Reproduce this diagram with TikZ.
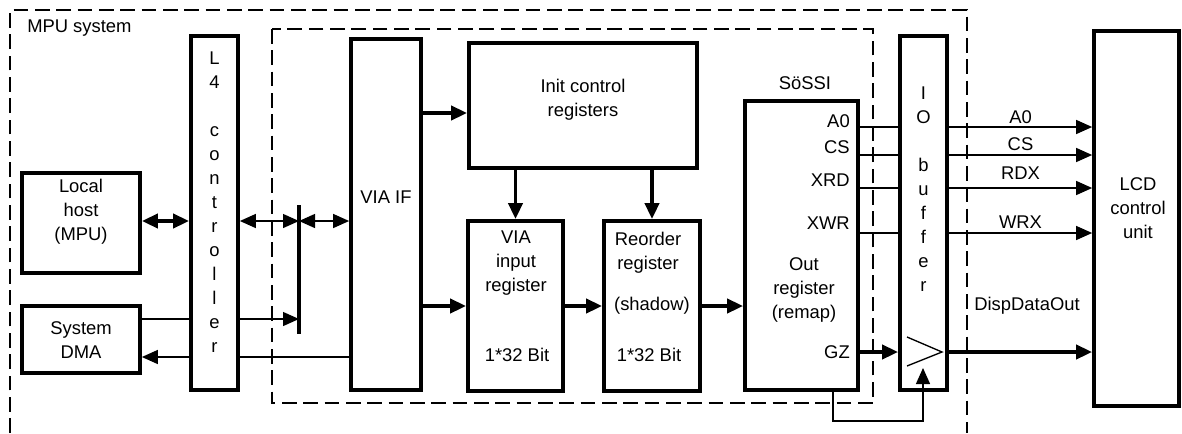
\documentclass[tikz,border=0pt]{standalone}
\usepackage{fontspec}
\setmainfont{Liberation Sans}
\usetikzlibrary{arrows.meta,fit}

\begin{document}
\begin{tikzpicture}[x=0.75pt, y=-0.75pt,
    font=\fontsize{13.8}{18}\selectfont,
    >={Triangle[length=12pt,width=10.5pt]},
    block/.style={draw, line width=2.8pt, inner sep=0pt},
    bus/.style={line width=2.8pt},
    wire/.style={line width=1pt},
    frame/.style={line width=2pt, dash pattern=on 11pt off 5pt},
    txt/.style={align=center, inner sep=0pt}]
  \useasboundingbox (0,0) rectangle (1182,433);
  % System boundaries
  \draw[frame] (10,433) -- (10,10) -- (967,10) -- (967,433);
  \node[anchor=west, inner sep=0pt] (mpu) at (27,28) {MPU system};
  \draw[frame] (272,29) rectangle (873,403);
  % Blocks
  \node[block, fit={(22,173) (140,273)}] (host) {};
  \node[txt] (hosttxt) at (81,212) {Local\\host\\(MPU)};
  \node[block, fit={(22,306) (140,373)}] (dma) {};
  \node[txt] (dmatxt) at (81,340) {System\\DMA};
  \node[block, fit={(191,36) (238,390)}] (l4) {};
  \node[txt] (l4txt) at (214.5,202) {L\\4\\[18pt]c\\o\\n\\t\\r\\o\\l\\l\\e\\r};
  \node[block, fit={(351,39) (421,390)}] (viaif) {};
  \node[txt] (viaiftxt) at (386,197) {VIA IF};
  \node[block, fit={(469,43) (697,168)}] (init) {};
  \node[txt] (inittxt) at (583,100) {Init control\\registers};
  \node[block, fit={(468,221) (563,391)}] (vin) {};
  \node[txt] (vintxt) at (516,263) {VIA\\input\\register};
  \node[txt] (vinbits) at (517,355) {1*32 Bit};
  \node[block, fit={(604,221) (700,391)}] (reord) {};
  \node[txt] (reordtxt) at (648,253) {Reorder\\register};
  \node[txt] (shadow) at (652,306) {(shadow)};
  \node[txt] (reordbits) at (649,355) {1*32 Bit};
  \node[txt] (sossi) at (805,83) {SöSSI};
  \node[block, fit={(745,101) (858,390)}] (outreg) {};
  \node[txt] (outregtxt) at (804,290) {Out\\register\\(remap)};
  \node[block, fit={(900,36) (947,390)}] (iobuf) {};
  \node[txt] (iobuftxt) at (923.5,189) {I\\O\\[18pt]b\\u\\f\\f\\e\\r};
  \node[block, fit={(1094,31) (1179,406)}] (lcd) {};
  \node[txt] (lcdtxt) at (1138,208) {LCD\\control\\unit};
  % Levels and bus bar
  \coordinate (yhost) at (0,221);
  \coordinate (ydmain) at (0,319);
  \coordinate (ydmaout) at (0,357);
  \coordinate (yinit) at (0,113);
  \coordinate (ya0) at (0,127);
  \coordinate (ycs) at (0,155);
  \coordinate (yxrd) at (0,188);
  \coordinate (yxwr) at (0,233);
  \coordinate (ygz) at (0,352);
  \coordinate (bartop) at (299,205);
  \coordinate (barbot) at (299,334);
  \draw[bus] (bartop) -- (barbot);
  % Host and DMA side
  \draw[bus, <->] (host.east |- yhost) -- (l4.west |- yhost);
  \draw[wire, <->] (l4.east |- yhost) -- (bartop |- yhost);
  \draw[wire, <->] (bartop |- yhost) -- (viaif.west |- yhost);
  \draw[wire] (dma.east |- ydmain) -- (l4.west |- ydmain);
  \draw[wire, ->] (l4.east |- ydmain) -- (bartop |- ydmain);
  \draw[wire, ->] (l4.west |- ydmaout) -- (dma.east |- ydmaout);
  \draw[wire] (viaif.west |- ydmaout) -- (l4.east |- ydmaout);
  % Register path
  \draw[bus, ->] (viaif.east |- yinit) -- (init.west |- yinit);
  \draw[bus, ->] (init.south -| vin.north) -- (vin.north);
  \draw[bus, ->] (init.south -| reord.north) -- (reord.north);
  \draw[bus, ->] (viaif.east |- vin.west) -- (vin.west);
  \draw[bus, ->] (vin.east) -- (reord.west);
  \draw[bus, ->] (reord.east) -- (outreg.west |- reord.east);
  % Control signals
  \node[anchor=east, inner sep=0pt] (a0in) at (850,121) {A0};
  \node[anchor=east, inner sep=0pt] (csin) at (850,147.5) {CS};
  \node[anchor=east, inner sep=0pt] (xrdin) at (850,180) {XRD};
  \node[anchor=east, inner sep=0pt] (xwrin) at (850,223) {XWR};
  \node[anchor=east, inner sep=0pt] (gzin) at (850,352.5) {GZ};
  \draw[wire] (outreg.east |- ya0) -- (iobuf.west |- ya0);
  \draw[wire] (outreg.east |- ycs) -- (iobuf.west |- ycs);
  \draw[wire] (outreg.east |- yxrd) -- (iobuf.west |- yxrd);
  \draw[wire] (outreg.east |- yxwr) -- (iobuf.west |- yxwr);
  \draw[wire, ->] (iobuf.east |- ya0) -- node[above, inner sep=2pt] (a0out) {A0} (lcd.west |- ya0);
  \draw[wire, ->] (iobuf.east |- ycs) -- node[above, inner sep=2.5pt] (csout) {CS} (lcd.west |- ycs);
  \draw[wire, ->] (iobuf.east |- yxrd) -- node[above, inner sep=6pt] (rdxout) {RDX} (lcd.west |- yxrd);
  \draw[wire, ->] (iobuf.east |- yxwr) -- node[above, inner sep=3pt] (wrxout) {WRX} (lcd.west |- yxwr);
  % Data out through the gate
  \draw[wire] (907,337) -- (942,352) -- (907,366);
  \draw[bus, ->] (outreg.east |- ygz) -- (iobuf.west |- ygz);
  \draw[bus, ->] (iobuf.east |- ygz) -- (lcd.west |- ygz);
  \node[txt] (dispout) at (1027,306) {DispDataOut};
  % Enable feedback
  \coordinate (fbl) at (833,421);
  \coordinate (gate) at (923,368);
  \draw[wire, ->] (outreg.south -| fbl) -- (fbl) -- (gate |- fbl) -- (gate);
\end{tikzpicture}
\end{document}
